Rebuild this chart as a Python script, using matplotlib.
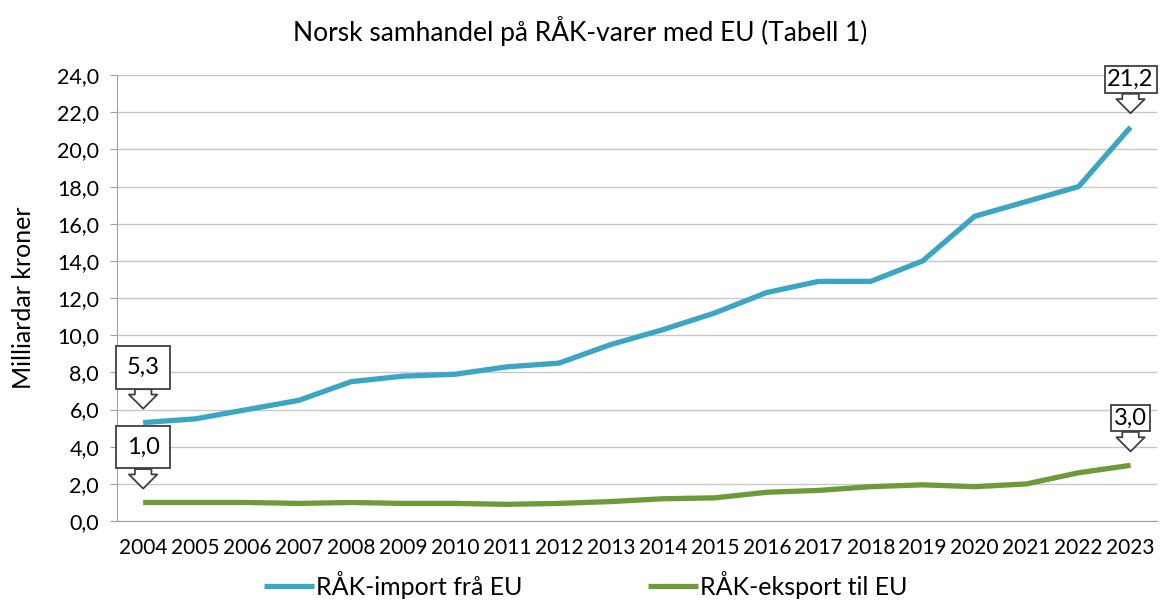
import matplotlib.pyplot as plt
import numpy as np

years = [str(y) for y in range(2004, 2024)]
import_eu = [5.3, 5.5, 6.0, 6.5, 7.5, 7.8, 7.9, 8.3, 8.5, 9.5,
             10.3, 11.2, 12.3, 12.9, 12.9, 14.0, 16.4, 17.2, 18.0, 21.2]
export_eu = [1.0, 1.0, 1.0, 0.95, 1.0, 0.95, 0.95, 0.9, 0.95, 1.05,
             1.2, 1.25, 1.55, 1.65, 1.85, 1.95, 1.85, 2.0, 2.6, 3.0]

plt.rcParams['font.family'] = ['Lato', 'DejaVu Sans']

fig = plt.figure(figsize=(11.6, 6.01), dpi=100)
ax = fig.add_axes([0.101, 0.133, 0.896, 0.742])

x = np.arange(len(years))
ax.plot(x, import_eu, color='#3aa6c4', lw=3.8, solid_capstyle='butt', label='RÅK-import frå EU')
ax.plot(x, export_eu, color='#6f9a3a', lw=3.8, solid_capstyle='butt', label='RÅK-eksport til EU')

ax.set_xlim(-0.5, len(years) - 0.5)
ax.set_ylim(0, 24)
ticks = np.arange(0, 25, 2)
ax.set_yticks(ticks)
ax.set_yticklabels(['{:.1f}'.format(v).replace('.', ',') for v in ticks], fontsize=15.5)
ax.set_xticks(x)
ax.set_xticklabels(years, fontsize=15)
ax.tick_params(axis='x', length=0, pad=12)
ax.tick_params(axis='y', length=5, color='#a0a0a0', pad=8)
ax.grid(axis='y', color='#c8c8c8', lw=1)
ax.set_axisbelow(True)
for s in ['top', 'right']:
    ax.spines[s].set_visible(False)
ax.spines['left'].set_color('#a0a0a0')
ax.spines['bottom'].set_color('#a0a0a0')
ax.set_ylabel('Milliardar kroner', fontsize=18, labelpad=16)

fig.text(0.5, 0.948, 'Norsk samhandel på RÅK-varer med EU (Tabell 1)', fontsize=19,
         ha='center', va='center')


def callout(i, vals, pad):
    v = vals[i]
    txt = '{:.1f}'.format(v).replace('.', ',')
    ax.annotate(txt, xy=(i, v), xytext=(0, 10 + 14.5 + pad * 17), textcoords='offset points',
                ha='center', va='bottom', fontsize=17,
                bbox=dict(boxstyle='square,pad={}'.format(pad), fc='white', ec='#404040', lw=1.3),
                arrowprops=dict(arrowstyle='simple,head_length=0.6,head_width=1.2,tail_width=0.7',
                                fc='white', ec='#404040', lw=1.3, shrinkA=0, shrinkB=10))


callout(0, import_eu, 0.45)
callout(0, export_eu, 0.45)
callout(len(years) - 1, import_eu, 0.12)
callout(len(years) - 1, export_eu, 0.12)

fig.legend(loc='center', bbox_to_anchor=(0.505, 0.027), ncol=2, frameon=False,
           fontsize=18, handlelength=2.0, columnspacing=5.0, handletextpad=0.1)

fig.savefig('out.png', dpi=100)
